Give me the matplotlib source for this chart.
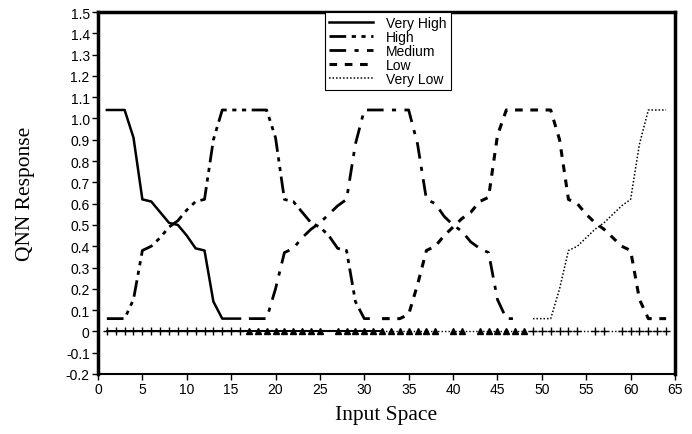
import numpy as np
import matplotlib
matplotlib.use("Agg")
import matplotlib.pyplot as plt

# ---- data ----
x_very_high = list(range(1, 17))
very_high = [1.04, 1.04, 1.04, 0.91, 0.62, 0.61, 0.56, 0.51, 0.50, 0.45, 0.39, 0.38, 0.14, 0.06, 0.06, 0.06]

x_high = list(range(1, 32))
high = [0.06, 0.06, 0.06, 0.15, 0.38, 0.40, 0.44, 0.49, 0.52, 0.57, 0.61, 0.62, 0.90, 1.04,
        1.04, 1.04, 1.04, 1.04, 1.04, 0.91, 0.62, 0.61, 0.56, 0.51, 0.49, 0.45, 0.39, 0.38,
        0.14, 0.06, 0.06]

x_medium = list(range(17, 48))
medium = [0.06, 0.06, 0.06, 0.20, 0.37, 0.39, 0.44, 0.48, 0.51, 0.55, 0.59, 0.62, 0.88, 1.04,
          1.04, 1.04, 1.04, 1.04, 1.04, 0.88, 0.62, 0.60, 0.54, 0.50, 0.47, 0.42, 0.39, 0.37,
          0.15, 0.06, 0.06]

x_low = list(range(32, 65))
low = [0.06, 0.06, 0.06, 0.08, 0.22, 0.38, 0.40, 0.45, 0.49, 0.53, 0.56, 0.61, 0.63, 0.92,
       1.04, 1.04, 1.04, 1.04, 1.04, 1.04, 0.90, 0.62, 0.60, 0.55, 0.51, 0.48, 0.44, 0.40,
       0.38, 0.15, 0.06, 0.06, 0.06]

x_very_low = list(range(49, 65))
very_low = [0.06, 0.06, 0.06, 0.20, 0.38, 0.40, 0.44, 0.48, 0.51, 0.55, 0.59, 0.62, 0.88,
            1.04, 1.04, 1.04]

# zero-output markers along the baseline
x_plus = list(range(1, 17)) + [49, 50, 51, 52, 53, 54, 56, 57, 59, 60, 61, 62, 63, 64]
x_triangle = [x for x in range(17, 49) if x not in (26, 39, 42)]
x_base_solid = list(range(1, 33))
x_base_dotted = list(range(32, 65))

y_ticks = [-0.2, -0.1, 0, 0.1, 0.2, 0.3, 0.4, 0.5, 0.6, 0.7, 0.8, 0.9, 1.0, 1.1, 1.2, 1.3, 1.4, 1.5]
y_tick_labels = ["-0.2", "-0.1", "0", "0.1", "0.2", "0.3", "0.4", "0.5", "0.6", "0.7", "0.8",
                 "0.9", "1.0", "1.1", "1.2", "1.3", "1.4", "1.5"]
x_ticks = list(range(0, 66, 5))

labels = ["Very High", "High", "Medium", "Low", "Very Low"]

# ---- figure ----
plt.rcParams['font.family'] = ['Liberation Sans', 'DejaVu Sans']
fig = plt.figure(figsize=(6.92, 4.35), dpi=100)
ax = fig.add_axes([0.1416, 0.138, 0.8338, 0.832])

ax.plot(x_very_high, very_high, color='black', lw=1.8, ls='-', label=labels[0])
ax.plot(x_high, high, color='black', lw=2.0, ls=(0, (6, 2, 1.5, 2, 1.5, 2)), label=labels[1])
ax.plot(x_medium, medium, color='black', lw=2.0, ls=(0, (6, 3, 1.5, 3)), label=labels[2])
ax.plot(x_low, low, color='black', lw=2.2, ls=(0, (2.5, 2.5)), label=labels[3])
ax.plot(x_very_low, very_low, color='black', lw=1.1, ls=(0, (1, 1.3)), label=labels[4])

ax.plot(x_base_solid, np.zeros(len(x_base_solid)), color='black', lw=1.5, ls='-')
ax.plot(x_base_dotted, np.zeros(len(x_base_dotted)), color='black', lw=1.0, ls=(0, (1, 1.5)))
ax.plot(x_plus, np.zeros(len(x_plus)), ls='none', marker='+', ms=6, mew=1.0, color='black')
ax.plot(x_triangle, np.zeros(len(x_triangle)), ls='none', marker='^', ms=5, color='black')

ax.set_xlim(0, 65)
ax.set_ylim(-0.2, 1.5)
ax.set_xticks(x_ticks)
ax.set_xticklabels([str(t) for t in x_ticks], fontsize=10)
ax.set_yticks(y_ticks)
ax.set_yticklabels(y_tick_labels, fontsize=10)
ax.tick_params(direction='out', length=4, width=1.0, pad=2)

for side in ['left', 'top', 'right']:
    ax.spines[side].set_linewidth(2.5)
ax.spines['bottom'].set_linewidth(1.5)

ax.set_xlabel("Input Space", family=['Liberation Serif'], fontsize=15.5, labelpad=6)
ax.set_ylabel("QNN Response", family=['Liberation Serif'], fontsize=15.5, labelpad=22)

leg = ax.legend(loc='upper left', bbox_to_anchor=(0.393, 1.0), borderaxespad=0,
                fancybox=False, edgecolor='black', framealpha=1, fontsize=10,
                handlelength=3.2, handletextpad=0.9, labelspacing=0.0,
                borderpad=0.3)
leg.get_frame().set_linewidth(0.8)

fig.savefig("out.png", dpi=100)
